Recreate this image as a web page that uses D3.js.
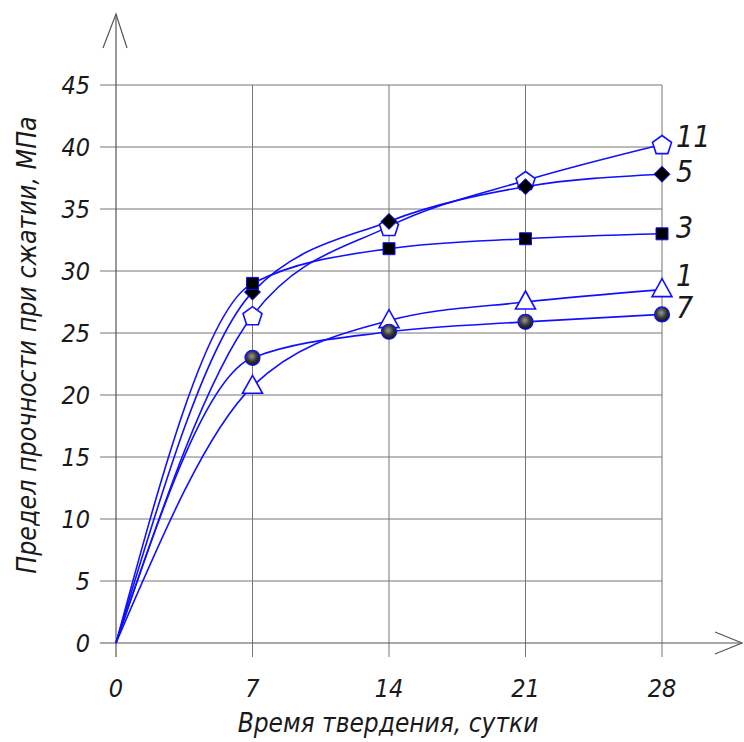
<!DOCTYPE html>
<html lang="ru">
<head>
<meta charset="UTF-8" />
<title>Предел прочности при сжатии</title>
<style>
  body { margin: 0; background: #fff; }
  text {
    font-family: 'DejaVu Sans', sans-serif;
    font-stretch: condensed;
    font-weight: 200;
    font-style: italic;
    fill: #1a1a1a;
  }
  .grid line { stroke: #777; stroke-width: 1; }
  .axis-line { stroke: #555; stroke-width: 1.2; fill: none; }
  .curve { fill: none; stroke: #1010ff; stroke-width: 1.6; }
</style>
<script src="https://d3js.org/d3.v7.min.js"></script>
</head>
<body>
<div id="chart"></div>
<script>
  // Данные
  const days = [0, 7, 14, 21, 28];
  const xTicks = [0, 7, 14, 21, 28];
  const yTicks = [0, 5, 10, 15, 20, 25, 30, 35, 40, 45];

  const s11 = [0, 26.4, 33.6, 37.3, 40.2];
  const s5  = [0, 28.3, 34.0, 36.8, 37.8];
  const s3  = [0, 29.0, 31.8, 32.6, 33.0];
  const s1  = [0, 20.7, 26.0, 27.5, 28.5];
  const s7  = [0, 23.0, 25.1, 25.9, 26.5];

  const seriesNames = ['11', '5', '3', '1', '7'];
  const seriesValues = [s11, s5, s3, s1, s7];
  const seriesMarkers = ['pentagon', 'diamond', 'square', 'triangle', 'ball'];

  const width = 744, height = 742;
  const svg = d3.select('#chart').append('svg')
    .attr('width', width).attr('height', height);

  const x = d3.scaleLinear().domain([0, 28]).range([116, 662]);
  const y = d3.scaleLinear().domain([0, 45]).range([643, 85]);

  // градиент для шариков
  const grad = svg.append('defs').append('radialGradient')
    .attr('id', 'ball').attr('cx', '45%').attr('cy', '40%').attr('r', '60%');
  grad.append('stop').attr('offset', '0%').attr('stop-color', '#9a9a9a');
  grad.append('stop').attr('offset', '55%').attr('stop-color', '#3a3a3a');
  grad.append('stop').attr('offset', '100%').attr('stop-color', '#111');

  // Сетка
  const grid = svg.append('g').attr('class', 'grid');
  grid.selectAll('.h').data(yTicks.slice(1)).enter().append('line')
    .attr('x1', x(0) - 16).attr('x2', x(28))
    .attr('y1', d => y(d)).attr('y2', d => y(d));
  grid.selectAll('.v').data(xTicks.slice(1)).enter().append('line')
    .attr('x1', d => x(d)).attr('x2', d => x(d))
    .attr('y1', y(45)).attr('y2', y(0) + 14);

  // Оси со стрелками
  svg.append('line').attr('class', 'axis-line')
    .attr('x1', x(0) - 16).attr('x2', 742).attr('y1', y(0)).attr('y2', y(0));
  svg.append('line').attr('class', 'axis-line')
    .attr('x1', x(0)).attr('x2', x(0)).attr('y1', y(0) + 14).attr('y2', 14);
  svg.append('path').attr('class', 'axis-line')
    .attr('d', `M${x(0) - 13},48 L${x(0)},14 L${x(0) + 11},48`);
  svg.append('path').attr('class', 'axis-line')
    .attr('d', `M715,632 L742,643 L715,654`);

  // Подписи делений
  svg.selectAll('.ytick').data(yTicks).enter().append('text')
    .attr('x', 90).attr('y', d => y(d) + 9)
    .attr('text-anchor', 'end').attr('font-size', 25)
    .text(d => d);
  svg.selectAll('.xtick').data(xTicks).enter().append('text')
    .attr('x', d => x(d)).attr('y', 697)
    .attr('text-anchor', 'middle').attr('font-size', 25)
    .text(d => d);

  // Названия осей
  svg.append('text')
    .attr('x', 388).attr('y', 732)
    .attr('text-anchor', 'middle').attr('font-size', 26)
    .text('Время твердения, сутки');
  svg.append('text')
    .attr('transform', 'translate(36,345) rotate(-90)')
    .attr('text-anchor', 'middle').attr('font-size', 26.5)
    .text('Предел прочности при сжатии, МПа');

  // Кривые
  const line = d3.line()
    .x((d, i) => x(days[i]))
    .y(d => y(d))
    .curve(d3.curveMonotoneX);

  svg.selectAll('.curve').data(seriesValues).enter().append('path')
    .attr('class', 'curve')
    .attr('d', d => line(d));

  // Маркеры
  function markerPath(type) {
    if (type === 'pentagon') {
      const r = 10;
      const pts = d3.range(5).map(k => {
        const a = -Math.PI / 2 + k * 2 * Math.PI / 5;
        return [r * Math.cos(a), r * Math.sin(a) + 1];
      });
      return 'M' + pts.join('L') + 'Z';
    }
    if (type === 'diamond') return 'M0,-8L8,0L0,8L-8,0Z';
    if (type === 'square') return 'M-6,-6L6,-6L6,6L-6,6Z';
    if (type === 'triangle') return 'M0,-11L10,7L-10,7Z';
    return null;
  }

  seriesValues.forEach((vals, si) => {
    const type = seriesMarkers[si];
    const g = svg.append('g');
    const pts = vals.slice(1).map((v, i) => ({ d: days[i + 1], v }));
    if (type === 'ball') {
      g.selectAll('circle').data(pts).enter().append('circle')
        .attr('cx', p => x(p.d)).attr('cy', p => y(p.v)).attr('r', 7.5)
        .attr('fill', 'url(#ball)').attr('stroke', '#1010ff').attr('stroke-width', 1.2);
    } else {
      const filled = type === 'diamond' || type === 'square';
      g.selectAll('path').data(pts).enter().append('path')
        .attr('transform', p => `translate(${x(p.d)},${y(p.v)})`)
        .attr('d', markerPath(type))
        .attr('fill', filled ? '#000' : '#fff')
        .attr('stroke', '#1010ff').attr('stroke-width', filled ? 1 : 1.6);
    }
  });

  // Номера составов
  const labelY = [40.8, 38.0, 33.5, 29.6, 27.0];
  svg.selectAll('.slabel').data(seriesNames).enter().append('text')
    .attr('x', 676)
    .attr('y', (d, i) => y(labelY[i]) + 10)
    .attr('font-size', 30)
    .text(d => d);
</script>
</body>
</html>
